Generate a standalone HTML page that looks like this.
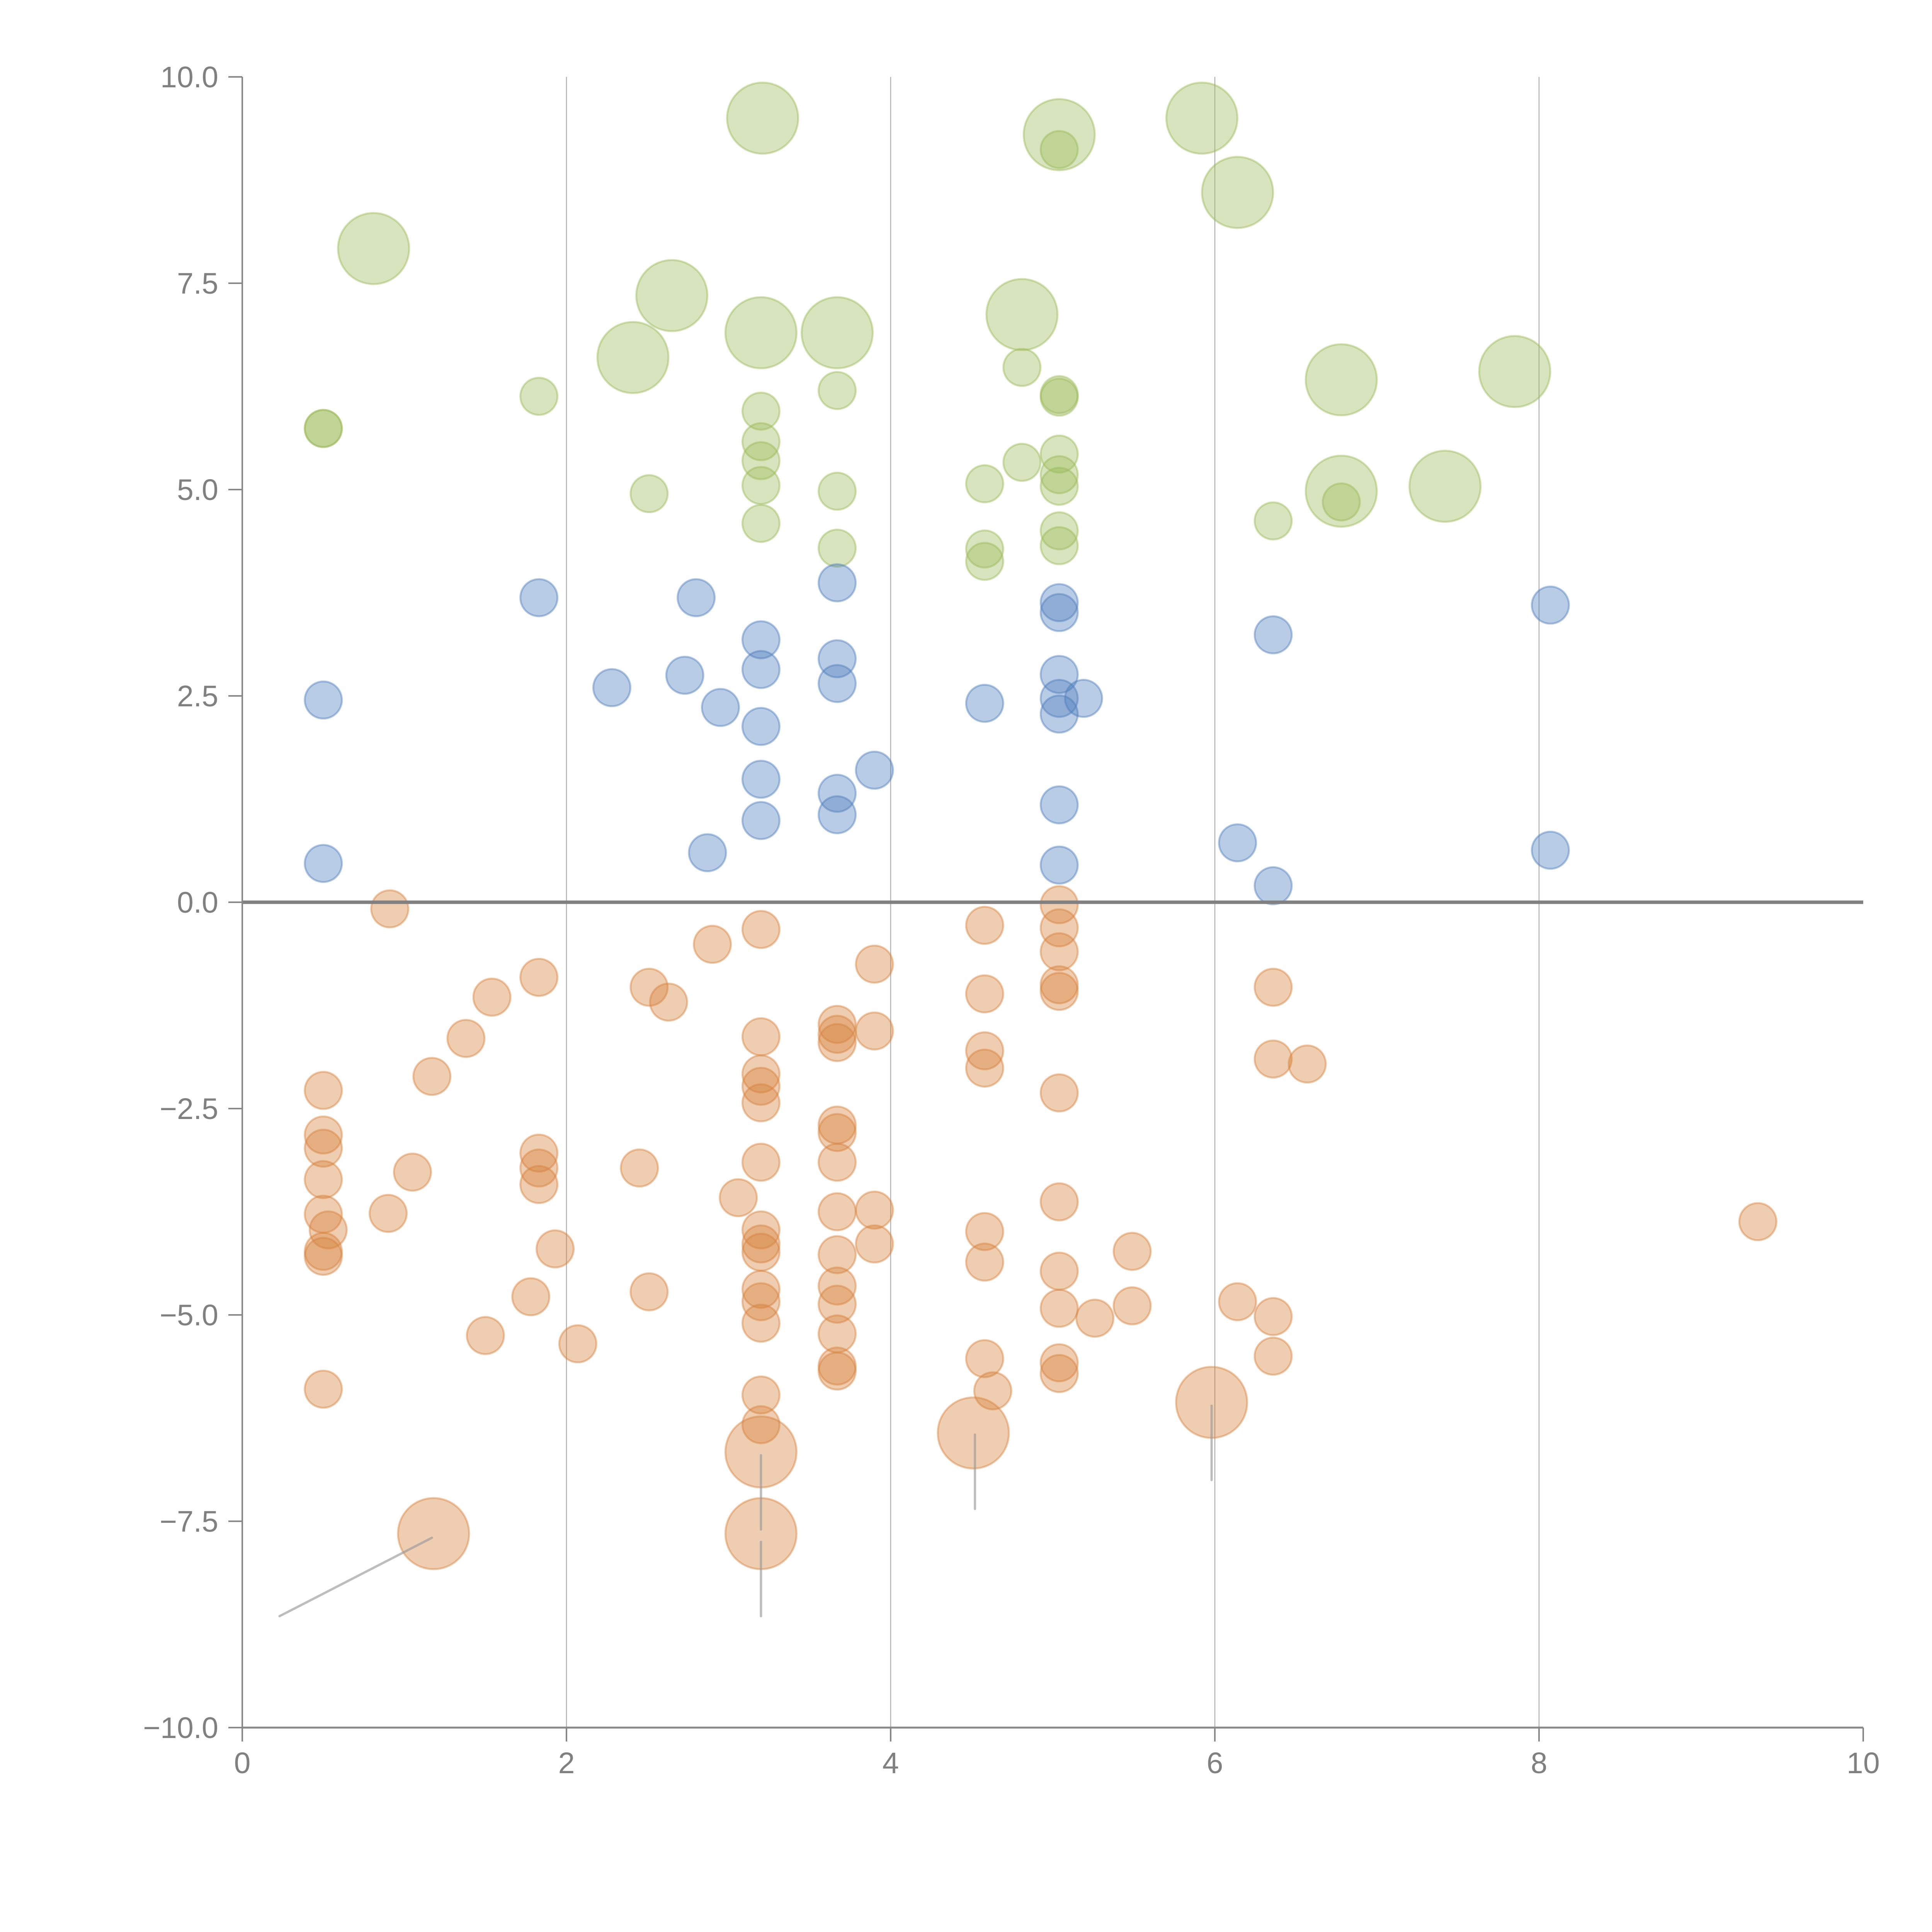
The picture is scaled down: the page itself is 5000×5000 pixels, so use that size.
<!DOCTYPE html>
<html><head><meta charset="utf-8"><style>html,body{margin:0;padding:0;background:#fff}svg{display:block}</style></head>
<body>
<svg id="chart" width="5000" height="5000" viewBox="0 0 5000 5000" xmlns="http://www.w3.org/2000/svg" font-family="Liberation Sans, sans-serif"></svg>
<script>
const xTicks = [0, 2, 4, 6, 8, 10];
const yTicks = [10.0, 7.5, 5.0, 2.5, 0.0, -2.5, -5.0, -7.5, -10.0];
const gridX = [2, 4, 6, 8];
const greenX = [0.81,2.65,2.41,3.21,3.2,3.67,4.81,5.04,5.92,6.14,6.78,7.85,7.42,6.78,
 0.5,0.5,1.83,2.51,3.2,3.2,3.2,3.2,3.2,3.67,3.67,3.67,4.58,4.58,4.58,4.81,4.81,5.04,5.04,5.04,5.04,5.04,5.04,5.04,5.04,6.36,6.78];
const greenY = [7.92,7.35,6.6,9.5,6.9,6.9,7.12,9.3,9.5,8.6,6.33,6.43,5.04,4.98,
 5.74,5.74,6.13,4.95,5.95,5.58,5.35,5.05,4.59,6.2,4.98,4.29,5.07,4.28,4.13,6.48,5.33,9.12,6.15,6.12,5.43,5.18,5.04,4.5,4.32,4.62,4.85];
const greenS = [2,2,2,2,2,2,2,2,2,2,2,2,2,2,1,1,1,1,1,1,1,1,1,1,1,1,1,1,1,1,1,1,1,1,1,1,1,1,1,1,1];
const blueX = [0.5,0.5,1.83,2.28,2.73,2.8,2.95,2.87,3.2,3.2,3.2,3.2,3.2,3.67,3.67,3.67,3.67,3.67,3.9,4.58,5.04,5.04,5.04,5.04,5.04,5.19,5.04,5.04,6.14,6.36,6.36,8.07,8.07];
const blueY = [2.45,0.47,3.69,2.6,2.75,3.69,2.36,0.6,3.18,2.82,2.13,1.49,0.99,3.87,2.95,2.65,1.32,1.06,1.6,2.41,3.63,3.51,2.76,2.47,2.28,2.47,1.18,0.45,0.72,3.24,0.2,3.6,0.63];
const orangeX = [0.91,0.5,0.5,0.5,0.5,0.5,0.53,0.5,0.5,0.5,0.9,1.05,1.17,1.38,1.54,1.5,1.83,1.83,1.83,1.83,1.93,1.78,2.07,2.45,2.51,2.63,2.51,2.9,3.06,
 3.2,3.2,3.2,3.2,3.2,3.2,3.2,3.2,3.2,3.2,3.2,3.2,3.2,3.2,3.2,3.2,
 3.67,3.67,3.67,3.67,3.67,3.67,3.67,3.67,3.67,3.67,3.67,3.67,3.67,3.9,3.9,3.9,3.9,
 4.58,4.58,4.58,4.58,4.58,4.58,4.58,4.63,4.51,
 5.04,5.04,5.04,5.04,5.04,5.04,5.04,5.04,5.04,5.04,5.04,5.26,5.49,5.49,5.98,6.14,6.36,6.36,6.36,6.36,6.57,9.35,1.18];
const orangeY = [-0.08,-2.28,-2.82,-2.98,-3.36,-3.78,-3.97,-4.23,-4.29,-5.9,-3.77,-3.27,-2.11,-1.65,-1.15,-5.25,-0.91,-3.04,-3.22,-3.42,-4.2,-4.78,-5.35,-3.22,-1.03,-1.21,-4.72,-0.51,-3.58,
 -0.33,-1.63,-2.08,-2.23,-2.43,-3.15,-3.97,-4.14,-4.24,-4.69,-4.84,-5.1,-5.97,-6.33,-6.66,-7.65,
 -1.48,-1.6,-1.7,-2.7,-2.79,-3.15,-3.75,-4.27,-4.65,-4.87,-5.23,-5.62,-5.68,-0.75,-1.56,-3.73,-4.14,
 -0.28,-1.11,-1.8,-2.01,-3.99,-4.36,-5.53,-5.92,-6.43,
 -0.03,-0.31,-0.6,-1.0,-1.08,-2.31,-3.63,-4.47,-4.92,-5.58,-5.71,-5.04,-4.23,-4.89,-6.06,-4.84,-1.03,-1.9,-5.02,-5.5,-1.96,-3.87,-7.65];
const orangeS = [1,1,1,1,1,1,1,1,1,1,1,1,1,1,1,1,1,1,1,1,1,1,1,1,1,1,1,1,1,
 1,1,1,1,1,1,1,1,1,1,1,1,1,1,2,2,
 1,1,1,1,1,1,1,1,1,1,1,1,1,1,1,1,1,
 1,1,1,1,1,1,1,1,2,
 1,1,1,1,1,1,1,1,1,1,1,1,1,1,2,1,1,1,1,1,1,1,2];
const leaderX1 = [0.23,3.2,3.2,4.52,5.98];
const leaderY1 = [-8.65,-6.7,-7.75,-6.45,-6.1];
const leaderX2 = [1.17,3.2,3.2,4.52,5.98];
const leaderY2 = [-7.7,-7.6,-8.65,-7.35,-7.0];

const svg = document.getElementById('chart');
const NS = 'http://www.w3.org/2000/svg';
const X0 = 627, X1 = 4822, Y0 = 4471, Y1 = 199;
const sx = v => X0 + (v - 0) / 10 * (X1 - X0);
const sy = v => Y0 - (v + 10) / 20 * (Y0 - Y1);
function mk(tag, attrs) { const e = document.createElementNS(NS, tag); for (const k in attrs) e.setAttribute(k, attrs[k]); svg.appendChild(e); return e; }

gridX.forEach(g => {
  const l = mk('line', {x1: sx(g), x2: sx(g), y1: sy(10), y2: sy(-10), stroke: '#b0b0b0', 'stroke-width': 2.5});
  
  
});

function series(xs, ys, ss, color, name) {
  xs.forEach((x, i) => {
    const r = (ss ? ss[i] : 1) === 2 ? 92 : 48;
    const c = mk('circle', {cx: sx(x), cy: sy(ys[i]), r: r, fill: color, 'fill-opacity': 0.4, stroke: color, 'stroke-opacity': 0.45, 'stroke-width': 5});
    
    
  });
}
series(greenX, greenY, greenS, '#9bbb59', 'green-bubble');
series(blueX, blueY, null, '#4f7fbd', 'blue-bubble');
series(orangeX, orangeY, orangeS, '#d8823d', 'orange-bubble');

leaderX1.forEach((x, i) => {
  const l = mk('line', {x1: sx(x), y1: sy(leaderY1[i]), x2: sx(leaderX2[i]), y2: sy(leaderY2[i]), stroke: '#9a9a9a', 'stroke-opacity': 0.65, 'stroke-width': 6, 'stroke-linecap': 'round'});
  
  
});

const zl = mk('line', {x1: sx(0), x2: sx(10), y1: sy(0), y2: sy(0), stroke: '#808080', 'stroke-width': 9});



const ya = mk('line', {x1: X0, x2: X0, y1: Y1, y2: Y0, stroke: '#888', 'stroke-width': 4});


const xa = mk('line', {x1: X0, x2: X1, y1: Y0, y2: Y0, stroke: '#888', 'stroke-width': 5});



yTicks.forEach(t => {
  const tk = mk('line', {x1: X0 - 36, x2: X0, y1: sy(t), y2: sy(t), stroke: '#888', 'stroke-width': 4});
  
  
  const tx = mk('text', {x: X0 - 62, y: sy(t) + 27, 'text-anchor': 'end', 'font-size': 77, fill: '#808080'});
  tx.textContent = (t < 0 ? '\u2212' + Math.abs(t).toFixed(1) : t.toFixed(1));
  
  
});
xTicks.forEach(t => {
  const tk = mk('line', {x1: sx(t), x2: sx(t), y1: Y0, y2: Y0 + 36, stroke: '#888', 'stroke-width': 4});
  
  
  const tx = mk('text', {x: sx(t), y: Y0 + 118, 'text-anchor': 'middle', 'font-size': 77, fill: '#808080'});
  tx.textContent = String(t);
  
  
});
</script>
</body></html>
